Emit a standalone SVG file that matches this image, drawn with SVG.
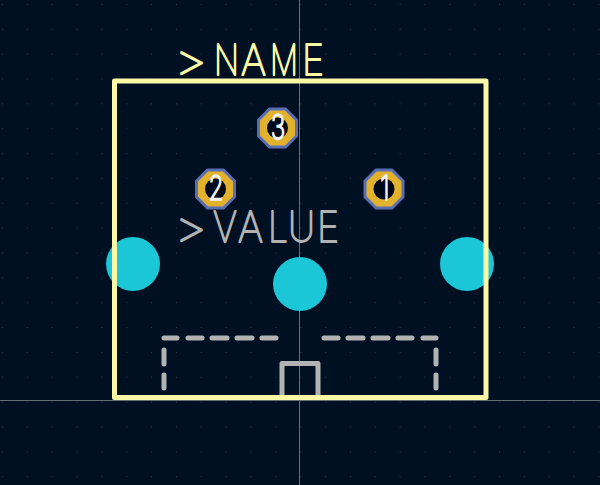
<svg xmlns="http://www.w3.org/2000/svg" width="600" height="485" viewBox="0 0 600 485">
<style>
.silk{fill:none;stroke:#b2b2b2;stroke-width:5;stroke-linecap:round}
.outline{fill:none;stroke:#fdf8a6;stroke-width:5;stroke-linejoin:round}
.axis{stroke:#686d78;stroke-width:1}
.th{fill:#1bc6d6}
.oct{fill:#e3b22c;stroke:#5a6fb3;stroke-width:3}
.hole{fill:#00091a}
.num{font-family:"Inter","Liberation Sans",sans-serif;font-weight:200;font-size:34px;fill:#f2f2f2;text-anchor:middle;stroke:#f2f2f2;stroke-width:1.500}
.big{font-family:"Inter","Liberation Sans",sans-serif;font-weight:100;font-size:42px;stroke-width:1.900;stroke-linejoin:round}
</style>
<defs>
<pattern id="grid" x="2" y="4" width="24.85" height="24.85" patternUnits="userSpaceOnUse"><rect width="1" height="1" fill="#2c3547"/></pattern>
<g id="octagon"><polygon class="oct" points="-8,-19 8,-19 19,-8 19,8 8,19 -8,19 -19,8 -19,-8"/><circle class="hole" r="10.5"/></g>
</defs>
<rect width="600" height="485" fill="#001023"/>
<rect width="600" height="485" fill="url(#grid)"/>
<g id="axes"><line class="axis" x1="299.500" y1="0" x2="299.500" y2="485"/><line class="axis" x1="0" y1="400.500" x2="600" y2="400.500"/></g>
<g id="pad-tht-left"><circle class="th" cx="133" cy="264" r="27"/></g>
<g id="pad-tht-center"><circle class="th" cx="300" cy="284" r="27"/></g>
<g id="pad-tht-right"><circle class="th" cx="467" cy="264" r="27"/></g>
<g id="silkscreen">
<path class="silk" d="M164 338H177M188 338H202M212 338H227M237 338H252M262 338H276M324 338H338M348 338H363M373 338H388M398 338H412M423 338H436M164 350V364M164 375V388M436 350V364M436 375V388"/>
<path style="fill:none;stroke:#b2b2b2;stroke-width:5;stroke-linejoin:round" d="M282 398V363.500H318V398"/>
</g>
<g id="outline"><rect class="outline" x="114.500" y="81" width="371.500" height="316.500"/></g>
<g id="pad-3"><use href="#octagon" x="277.500" y="128"/><text class="num" transform="translate(278,139) scale(.72,1)">3</text></g>
<g id="pad-2"><use href="#octagon" x="215.500" y="189"/><text class="num" transform="translate(216,200) scale(.72,1)">2</text></g>
<g id="pad-1"><use href="#octagon" x="384" y="189"/><text class="num" transform="translate(385,200) scale(.72,1)">1</text></g>
<text id="ref-name" class="big" fill="#fdf8a6" stroke="#fdf8a6" y="75"><tspan x="174" textLength="33" lengthAdjust="spacingAndGlyphs">&gt;</tspan><tspan x="214" textLength="25" lengthAdjust="spacingAndGlyphs">N</tspan><tspan x="241" textLength="25" lengthAdjust="spacingAndGlyphs">A</tspan><tspan x="270" textLength="28" lengthAdjust="spacingAndGlyphs">M</tspan><tspan x="302" textLength="22" lengthAdjust="spacingAndGlyphs">E</tspan></text>
<text id="ref-value" class="big" fill="#b2b2b2" stroke="#b2b2b2" y="242"><tspan x="174" textLength="33" lengthAdjust="spacingAndGlyphs">&gt;</tspan><tspan x="213" textLength="24" lengthAdjust="spacingAndGlyphs">V</tspan><tspan x="238" textLength="25" lengthAdjust="spacingAndGlyphs">A</tspan><tspan x="268" textLength="20" lengthAdjust="spacingAndGlyphs">L</tspan><tspan x="288" textLength="27" lengthAdjust="spacingAndGlyphs">U</tspan><tspan x="317" textLength="22" lengthAdjust="spacingAndGlyphs">E</tspan></text>
</svg>
